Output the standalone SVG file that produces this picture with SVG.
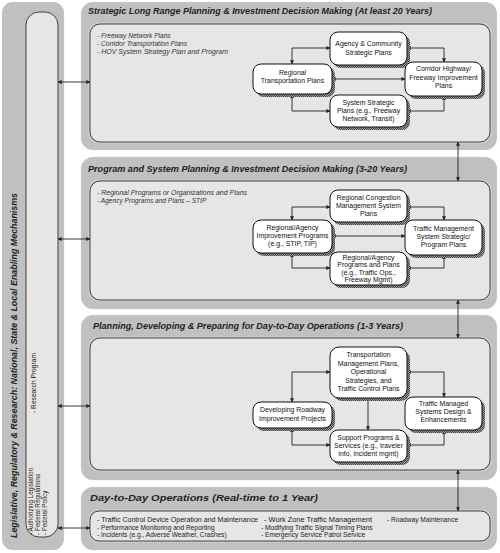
<svg xmlns="http://www.w3.org/2000/svg" width="500" height="553" viewBox="0 0 500 553">
<style>
.outer{fill:#c0c0c0;stroke:#d8d8d8;stroke-width:0.6;stroke-dasharray:1,1}
.inner{fill:#e6e6e6;stroke:#333;stroke-width:0.9}
.innerdot{fill:none;stroke:#fff;stroke-width:0.6;stroke-dasharray:1,1}
.node{fill:#fff;stroke:#111;stroke-width:1}
.shadow{fill:url(#hatch)}
.title{font-family:"Liberation Sans",Arial,sans-serif;font-weight:bold;font-style:italic;font-size:8.5px;fill:#222}
.bul{font-family:"Liberation Sans",Arial,sans-serif;font-style:italic;font-size:6.6px;fill:#333}
.bul2{font-family:"Liberation Sans",Arial,sans-serif;font-size:6.6px;fill:#222}
.side{font-family:"Liberation Sans",Arial,sans-serif;font-size:6.4px;fill:#222}
.nt{font-family:"Liberation Sans",Arial,sans-serif;font-size:6.9px;fill:#111;text-anchor:middle}
.con{fill:none;stroke:#222;stroke-width:0.9;marker-start:url(#ah);marker-end:url(#ah)}
.con1{fill:none;stroke:#222;stroke-width:0.9;marker-end:url(#ah)}
</style>
<defs>
<pattern id="hatch" patternUnits="userSpaceOnUse" width="2" height="2">
<rect width="2" height="2" fill="#9a9a9a"/>
<path d="M0,2 L2,0 M-0.5,0.5 L0.5,-0.5 M1.5,2.5 L2.5,1.5" stroke="#222" stroke-width="0.7"/>
</pattern>
<marker id="ah" viewBox="0 0 6 6" refX="5.5" refY="3" markerWidth="4" markerHeight="4" orient="auto-start-reverse" markerUnits="userSpaceOnUse">
<path d="M0,0 L6,3 L0,6 z" fill="#222"/>
</marker>
</defs>
<rect width="500" height="553" fill="#fff"/>

<g id="sidebar">
<rect class="outer" x="2" y="2" width="62" height="548" rx="11"/>
<rect class="inner" x="26" y="12" width="32" height="525" rx="13"/>
<text class="title" transform="translate(16.5,538) rotate(-90)" textLength="345" lengthAdjust="spacingAndGlyphs">Legislative, Regulatory &amp; Research: National, State &amp; Local Enabling Mechanisms</text>
<text class="side" transform="translate(35.5,413) rotate(-90)" textLength="60" lengthAdjust="spacingAndGlyphs">- Research Program</text>
<text class="side" transform="translate(33,535) rotate(-90)" textLength="67" lengthAdjust="spacingAndGlyphs">- Authorizing Legislation</text>
<text class="side" transform="translate(40,535) rotate(-90)">- Federal Regulations</text>
<text class="side" transform="translate(47,535) rotate(-90)">- Federal Policy</text>
</g>

<g id="panel1">
<rect class="outer" x="81" y="2" width="416" height="148" rx="12"/>
<text class="title" x="88" y="13.5" textLength="344" lengthAdjust="spacingAndGlyphs">Strategic Long Range Planning &amp; Investment Decision Making (At least 20 Years)</text>
<rect class="innerdot" x="89" y="23" width="402" height="120" rx="10"/>
<rect class="inner" x="90" y="24" width="400" height="118" rx="10"/>
<text class="bul" x="97" y="38">- Freeway Network Plans</text>
<text class="bul" x="97" y="46">- Corridor Transportation Plans</text>
<text class="bul" x="97" y="54" textLength="131" lengthAdjust="spacingAndGlyphs">- HOV System Strategy Plan and Program</text>
</g>

<g id="panel2">
<rect class="outer" x="81" y="157" width="416" height="152" rx="12"/>
<text class="title" x="88" y="171.5" textLength="319" lengthAdjust="spacingAndGlyphs">Program and System Planning &amp; Investment Decision Making (3-20 Years)</text>
<rect class="innerdot" x="89" y="180" width="402" height="121" rx="10"/>
<rect class="inner" x="90" y="181" width="400" height="119" rx="10"/>
<text class="bul" x="97" y="195" textLength="150" lengthAdjust="spacingAndGlyphs">- Regional Programs or Organizations and Plans</text>
<text class="bul" x="97" y="203">- Agency Programs and Plans – STIP</text>
</g>

<g id="panel3">
<rect class="outer" x="81" y="315" width="416" height="165" rx="12"/>
<text class="title" x="93" y="328.5" textLength="310" lengthAdjust="spacingAndGlyphs">Planning, Developing &amp; Preparing for Day-to-Day Operations (1-3 Years)</text>
<rect class="innerdot" x="89" y="337" width="402" height="134" rx="10"/>
<rect class="inner" x="90" y="338" width="400" height="132" rx="10"/>
</g>

<g id="panel4">
<rect class="outer" x="81" y="487" width="416" height="63" rx="12"/>
<text class="title" x="90" y="500.5" textLength="228" lengthAdjust="spacingAndGlyphs">Day-to-Day Operations (Real-time to 1 Year)</text>
<rect class="innerdot" x="89" y="510" width="402" height="32" rx="9"/>
<rect class="inner" x="90" y="511" width="400" height="30" rx="9"/>
<text class="bul2" x="97" y="522" textLength="161" lengthAdjust="spacingAndGlyphs">- Traffic Control Device Operation and Maintenance</text>
<text class="bul2" x="97" y="529.5">- Performance Monitoring and Reporting</text>
<text class="bul2" x="97" y="537">- Incidents (e.g., Adverse Weather, Crashes)</text>
<text class="bul2" x="264" y="522" textLength="108" lengthAdjust="spacingAndGlyphs">- Work Zone Traffic Management</text>
<text class="bul2" x="261" y="529.5">- Modifying Traffic Signal Timing Plans</text>
<text class="bul2" x="261" y="537">- Emergency Service Patrol Service</text>
<text class="bul2" x="387" y="522">- Roadway Maintenance</text>
</g>

<g id="connectors">
<path class="con" d="M58,82 H90"/>
<path class="con" d="M58,239 H90"/>
<path class="con" d="M58,406 H90"/>
<path class="con" d="M58,528 H90"/>
<path class="con" d="M458,142 V181"/>
<path class="con" d="M458,300 V338"/>
<path class="con" d="M458,470 V511"/>
<path class="con" d="M330,48 H292 V64"/>
<path class="con" d="M407,48 H444 V62"/>
<path class="con" d="M332,79 H405"/>
<path class="con" d="M292,94 V111 H330"/>
<path class="con" d="M407,111 H444 V96"/>
<path class="con" d="M330,207 H292 V220"/>
<path class="con" d="M407,207 H444 V220"/>
<path class="con" d="M332,236 H405"/>
<path class="con" d="M292,253 V268 H330"/>
<path class="con" d="M407,268 H444 V255"/>
<path class="con" d="M330,372 H292 V402"/>
<path class="con" d="M407,372 H444 V397"/>
<path class="con1" d="M368,398 V430"/>
<path class="con" d="M292,428 V445 H330"/>
<path class="con" d="M407,445 H444 V430"/>
</g>

<g id="n-agency">
<rect class="shadow" x="333" y="35" width="77" height="33" rx="8"/>
<rect class="node" x="330" y="32" width="77" height="33" rx="8"/>
<text class="nt" x="368.5" y="46">Agency &amp; Community</text>
<text class="nt" x="368.5" y="54.5">Strategic Plans</text>
</g>
<g id="n-regional">
<rect class="shadow" x="256" y="67" width="79" height="30" rx="8"/>
<rect class="node" x="253" y="64" width="79" height="30" rx="8"/>
<text class="nt" x="292.5" y="74.5">Regional</text>
<text class="nt" x="292.5" y="83">Transportation Plans</text>
</g>
<g id="n-corridor">
<rect class="shadow" x="408" y="65" width="77" height="34" rx="8"/>
<rect class="node" x="405" y="62" width="77" height="34" rx="8"/>
<text class="nt" x="443.5" y="71">Corridor Highway/</text>
<text class="nt" x="443.5" y="79.5">Freeway Improvement</text>
<text class="nt" x="443.5" y="88">Plans</text>
</g>
<g id="n-system">
<rect class="shadow" x="333" y="98" width="77" height="32" rx="8"/>
<rect class="node" x="330" y="95" width="77" height="32" rx="8"/>
<text class="nt" x="368.5" y="104.5">System Strategic</text>
<text class="nt" x="368.5" y="112.5">Plans (e.g., Freeway</text>
<text class="nt" x="368.5" y="120.5">Network, Transit)</text>
</g>

<g id="n-congestion">
<rect class="shadow" x="333" y="193" width="77" height="32" rx="8"/>
<rect class="node" x="330" y="190" width="77" height="32" rx="8"/>
<text class="nt" x="368.5" y="199.5">Regional Congestion</text>
<text class="nt" x="368.5" y="207.5">Management System</text>
<text class="nt" x="368.5" y="215.5">Plans</text>
</g>
<g id="n-improvement">
<rect class="shadow" x="256" y="223" width="79" height="33" rx="8"/>
<rect class="node" x="253" y="220" width="79" height="33" rx="8"/>
<text class="nt" x="292.5" y="229.5">Regional/Agency</text>
<text class="nt" x="292.5" y="237.5">Improvement Programs</text>
<text class="nt" x="292.5" y="245.5">(e.g., STIP, TIP)</text>
</g>
<g id="n-tmplans">
<rect class="shadow" x="408" y="223" width="77" height="35" rx="8"/>
<rect class="node" x="405" y="220" width="77" height="35" rx="8"/>
<text class="nt" x="443.5" y="230.5">Traffic Management</text>
<text class="nt" x="443.5" y="238.5">System Strategic/</text>
<text class="nt" x="443.5" y="246.5">Program Plans</text>
</g>
<g id="n-programs">
<rect class="shadow" x="333" y="255" width="77" height="33" rx="8"/>
<rect class="node" x="330" y="252" width="77" height="33" rx="8"/>
<text class="nt" x="368.5" y="259.5">Regional/Agency</text>
<text class="nt" x="368.5" y="267">Programs and Plans</text>
<text class="nt" x="368.5" y="274.5">(e.g., Traffic Ops.,</text>
<text class="nt" x="368.5" y="282">Freeway Mgmt)</text>
</g>

<g id="n-transport">
<rect class="shadow" x="333" y="350" width="77" height="51" rx="9"/>
<rect class="node" x="330" y="347" width="77" height="51" rx="9"/>
<text class="nt" x="368.5" y="357">Transportation</text>
<text class="nt" x="368.5" y="365.5">Management Plans,</text>
<text class="nt" x="368.5" y="374">Operational</text>
<text class="nt" x="368.5" y="382.5">Strategies, and</text>
<text class="nt" x="368.5" y="391">Traffic Control Plans</text>
</g>
<g id="n-developing">
<rect class="shadow" x="256" y="405" width="79" height="26" rx="8"/>
<rect class="node" x="253" y="402" width="79" height="26" rx="8"/>
<text class="nt" x="292.5" y="412">Developing Roadway</text>
<text class="nt" x="292.5" y="420.5">Improvement Projects</text>
</g>
<g id="n-managed">
<rect class="shadow" x="408" y="400" width="77" height="33" rx="8"/>
<rect class="node" x="405" y="397" width="77" height="33" rx="8"/>
<text class="nt" x="443.5" y="405.5">Traffic Managed</text>
<text class="nt" x="443.5" y="413.5">Systems Design &amp;</text>
<text class="nt" x="443.5" y="421.5">Enhancements</text>
</g>
<g id="n-support">
<rect class="shadow" x="333" y="433" width="77" height="32" rx="8"/>
<rect class="node" x="330" y="430" width="77" height="32" rx="8"/>
<text class="nt" x="368.5" y="439.5">Support Programs &amp;</text>
<text class="nt" x="368.5" y="447.5">Services (e.g., traveler</text>
<text class="nt" x="368.5" y="455.5">info, incident mgmt)</text>
</g>
</svg>
